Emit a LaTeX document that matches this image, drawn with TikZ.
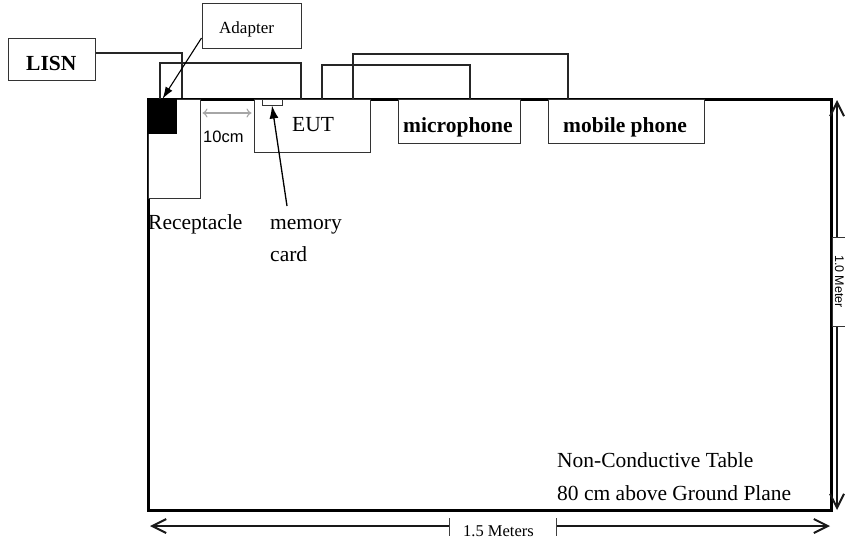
\documentclass[tikz,border=0pt]{standalone}
\usepackage{fontspec}
\setmainfont{Liberation Serif}
\setsansfont{Liberation Sans}
\usetikzlibrary{arrows.meta}
\tikzset{barb/.tip={Straight Barb[length=14pt,width=14pt,line width=2pt]}}
\begin{document}
\begin{tikzpicture}[x=1pt,y=-1pt,
  box/.style={draw=black!80,line width=1pt,inner sep=0pt,fill=white},
  wire/.style={draw=black!85,line width=1.2pt},
  lbl/.style={anchor=base west,inner sep=0pt,font=\fontsize{21.5}{21.5}\selectfont},
  blbl/.style={lbl,font=\fontsize{21.5}{21.5}\selectfont\bfseries},
  dimline/.style={line width=1.3pt,black!90}
]
\useasboundingbox (0,0) rectangle (845,542);

% table
\node[draw=black,line width=3pt,minimum width=683pt,minimum height=411pt,inner sep=0pt] (tbl) at (489.5,304.5) {};

% boxes
\node[box,minimum width=87pt,minimum height=42pt] (lisn) at (51.5,59) {};
\node[box,minimum width=99pt,minimum height=45pt] (adapter) at (251.5,25.5) {};
\node[box,minimum width=52pt,minimum height=99pt] (recept) at (174,148.5) {};
\node[fill=black,minimum width=29pt,minimum height=35pt,inner sep=0pt] (plug) at (162.5,116.5) {};
\node[box,minimum width=116pt,minimum height=53pt] (eut) at (312,125.5) {};
\node[box,minimum width=20pt,minimum height=6pt] (mem) at (272,102) {};
\node[box,minimum width=122pt,minimum height=44pt] (mic) at (459,121) {};
\node[box,minimum width=156pt,minimum height=44pt] (phone) at (626,121) {};

% texts
\node[blbl] (tlisn) at (26,70) {LISN};
\node[lbl,font=\fontsize{17}{17}\selectfont] (tadapter) at (219,33) {Adapter};
\node[lbl] (teut) at (292,131) {EUT};
\node[blbl] (tmic) at (403,132) {microphone};
\node[blbl] (tphone) at (563,132) {mobile phone};
\node[lbl,font=\sffamily\fontsize{16.5}{16.5}\selectfont] (t10) at (203,142) {10cm};
\node[lbl] (trec) at (148,229) {Receptacle};
\node[lbl] (tmem1) at (270,229) {memory};
\node[lbl] (tmem2) at (270,261) {card};
\node[lbl] (tnc1) at (557,467) {Non-Conductive Table};
\node[lbl] (tnc2) at (557,500) {80 cm above Ground Plane};

% wires
\draw[wire] (lisn.east |- 0,53) -- (182,53) -- (182,0 |- tbl.north);
\draw[wire] (160,0 |- plug.north) -- (160,63) -- (301,63) -- (301,0 |- eut.north);
\draw[wire] (322,0 |- eut.north) -- (322,65) -- (470,65) -- (470,0 |- mic.north);
\draw[wire] (353,0 |- eut.north) -- (353,54) -- (568,54) -- (568,0 |- phone.north);

% pointers
\coordinate (adp) at (adapter.west |- 0,38);
\draw[line width=1.1pt,-{Latex[length=12pt,width=8pt]}] (adp) -- (plug.north);
\coordinate (memtip) at (287,206);
\draw[line width=1.3pt,-{Latex[length=13pt,width=9pt]}] (memtip) -- (mem.south);

% 10cm
\draw[gray!70,line width=1.1pt,{To[length=5pt,width=9pt]}-{To[length=5pt,width=9pt]}]
  ([xshift=2pt]recept.east |- 0,113) -- ([xshift=-2pt]eut.west |- 0,113);

% horizontal dimension
\node[lbl,font=\fontsize{16.5}{16.5}\selectfont] (tdim) at (463,536) {1.5 Meters};
\coordinate (hl) at (150,526);
\coordinate (hr) at (830,526);
\coordinate (hl2) at (449,526);
\coordinate (hr2) at (556,526);
\draw[dimline,barb-] (hl) -- (hl2);
\draw[dimline,-barb] (hr2) -- (hr);
\draw[line width=1pt,black!75] (449,518) -- (449,536);
\draw[line width=1pt,black!75] (556,518) -- (556,536);

% vertical dimension
\coordinate (vt) at (837,100);
\coordinate (vb) at (837,510);
\draw[dimline,barb-barb] (vt) -- (vb);
\node[draw=black!80,line width=1pt,fill=white,rotate=-90,minimum width=89pt,minimum height=26pt,inner sep=0pt] (vlabel) at (845,281.5) {};
\node[rotate=-90,inner sep=0pt,font=\sffamily\fontsize{12.5}{12.5}\selectfont] (tvlabel) at (839.5,281.5) {1.0 Meter};
\end{tikzpicture}
\end{document}
